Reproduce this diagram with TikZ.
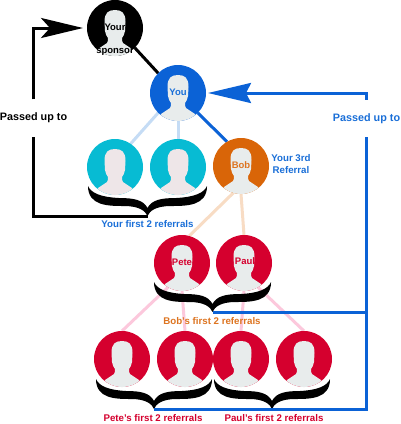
\documentclass[tikz,border=0pt]{standalone}
\usepackage{fontspec}
\setmainfont{Liberation Sans}
\usetikzlibrary{arrows.meta,backgrounds}
\definecolor{cBlue}{HTML}{0B62D6}
\definecolor{cBlueText}{HTML}{1A6FD8}
\definecolor{cTeal}{HTML}{07BBD3}
\definecolor{cOrange}{HTML}{D96508}
\definecolor{cOrangeText}{HTML}{DD7420}
\definecolor{cRed}{HTML}{D5002E}
\definecolor{cSkin}{HTML}{E8ECEC}
\definecolor{cSkinPink}{HTML}{EEE6E8}
\definecolor{cLineBlue}{HTML}{C5DCF5}
\definecolor{cPeach}{HTML}{F8DCC4}
\definecolor{cPink}{HTML}{FCC8DC}
\newcommand{\silhouette}[1]{%
  \fill[#1,shift={(path picture bounding box.center)}]
    (-17,21) -- (-8,15) .. controls (-7,14) and (-7,12) .. (-7,10)
    .. controls (-8,8) and (-10,6) .. (-10,3)
    -- (-10.5,-6) .. controls (-10.5,-15) and (-7,-18) .. (0,-18)
    .. controls (7,-18) and (10.5,-15) .. (10.5,-6)
    -- (10,3) .. controls (10,6) and (8,8) .. (7,10)
    .. controls (7,12) and (7,14) .. (8,15)
    -- (17,21) -- (17,32) -- (-17,32) -- cycle;}
\tikzset{
  x=1pt,y=-1pt,
  person/.style n args={2}{circle,fill=#1,minimum size=56pt,inner sep=0pt,outer sep=0pt,
    path picture={\silhouette{#2}}},
  namelabel/.style={font=\fontsize{9.5}{11}\bfseries\selectfont,inner sep=0pt},
  grouplabel/.style={font=\fontsize{9.7}{12}\bfseries\selectfont,inner sep=0pt,align=center},
  passlabel/.style={font=\fontsize{10.8}{13}\bfseries\selectfont,inner sep=0pt,minimum height=37pt},
  link/.style={line width=3pt},
  bigbrace/.pic={
    \fill[black] (0,0) .. controls (3,7) and (12,11) .. (30,12)
      .. controls (45,12) and (54,14) .. (58,22)
      .. controls (62,14) and (71,12) .. (86,12)
      .. controls (104,11) and (113,7) .. (116,0)
      .. controls (116,20) and (96,20) .. (81,20)
      .. controls (66,20) and (60,25) .. (58,30)
      .. controls (56,25) and (50,20) .. (35,20)
      .. controls (20,20) and (0,20) .. (0,0) -- cycle;
    \coordinate (-tip) at (58,30);
  }
}
\begin{document}
\begin{tikzpicture}
\useasboundingbox (0,0) rectangle (400,424);
% people
\node[person={black}{cSkin}] (sponsor) at (115,28) {};
\node[person={cBlue}{cSkin}] (you) at (178,93) {};
\node[person={cTeal}{cSkinPink}] (t1) at (115,167) {};
\node[person={cTeal}{cSkinPink}] (t2) at (178,167) {};
\node[person={cOrange}{cSkin}] (bob) at (241,166) {};
\node[person={cRed}{cSkin}] (pete) at (182,263) {};
\node[person={cRed}{cSkin}] (paul) at (244,263) {};
\node[person={cRed}{cSkin}] (b1) at (122,359) {};
\node[person={cRed}{cSkin}] (b2) at (185,359) {};
\node[person={cRed}{cSkin}] (b3) at (241,359) {};
\node[person={cRed}{cSkin}] (b4) at (304,359) {};
% names
\node[namelabel,text=black] (lyour) at (115,27) {Your};
\node[namelabel,text=black] (lsponsor) at (115,52) {sponsor};
\node[namelabel,text=cBlueText] (lyou) at (178,92) {You};
\node[namelabel,text=cOrangeText] (lbob) at (241,165) {Bob};
\node[namelabel,text=cRed] (lpete) at (182,262) {Pete};
\node[namelabel,text=cRed] (lpaul) at (245,261) {Paul};
% braces
\pic[xscale=1.026] (bA) at (88,186) {bigbrace};
\pic[xscale=1.009] (bB) at (154,282) {bigbrace};
\pic (bC) at (96,379) {bigbrace};
\pic (bD) at (214,379) {bigbrace};
% group labels
\node[grouplabel,text=cBlueText] (gyour) at (147.5,224) {Your first 2 referrals};
\node[grouplabel,text=cOrangeText] (gbob) at (212,321) {Bob's first 2 referrals};
\node[grouplabel,text=cRed] (gpete) at (153,418) {Pete's first 2 referrals};
\node[grouplabel,text=cRed] (gpaul) at (274,418.5) {Paul's first 2 referrals};
\node[grouplabel,text=cBlueText] (g3rd) at (291,164) {Your 3rd\\Referral};
% passed up to
\node[passlabel,text=black] (pA) at (33.5,118) {Passed up to};
\node[passlabel,text=cBlueText] (pB) at (366.5,118.5) {Passed up to};
% elbow arrows
\draw[link,black,-{Stealth[length=42pt,width=20pt,inset=9pt]},shorten >=4pt]
  (pA.north) |- (sponsor.west);
\draw[link,black] (bA-tip) -| (pA.south);
\draw[link,cBlue,-{Stealth[length=43pt,width=20pt,inset=5pt]},shorten >=2pt]
  (pB.north) |- (you.east);
\draw[link,cBlue] (bC-tip) -| (pB.south);
\draw[link,cBlue] (bB-tip) -- (bB-tip -| pB.south);
% tree links
\begin{scope}[on background layer]
\fill[white] (0,0) rectangle (400,424);
\draw[link,black] (sponsor.-45) -- (you.135);
\draw[link,cLineBlue] (you.-135) -- (t1.56);
\draw[link,cLineBlue] (you.south) -- (t2.north);
\draw[link,cBlue] (you.-45) -- (bob.120);
\draw[link,cPeach] (bob.-106) -- (pete.75);
\draw[link,cPeach] (bob.south) -- (paul.north);
\draw[link,cPink] (pete.-120) -- (b1.north);
\draw[link,cPink] (pete.south) -- (b2.north);
\draw[link,cPink] (paul.south) -- (b3.north);
\draw[link,cPink] (paul.-60) -- (b4.north);
\end{scope}
\end{tikzpicture}
\end{document}
